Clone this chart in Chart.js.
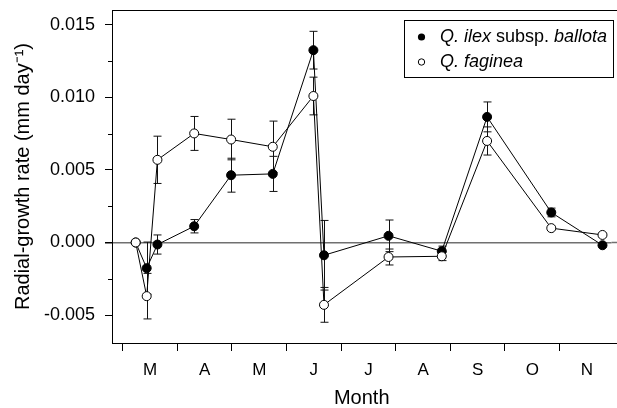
<!DOCTYPE html>
<html>
<head>
<meta charset="utf-8">
<script src="https://cdn.jsdelivr.net/npm/chart.js@4"></script>
<style>
  body { margin: 0; background: #fff; }
  #wrap { width: 617px; height: 408px; }
</style>
</head>
<body>
<div id="wrap"><canvas id="growthChart"></canvas></div>
<script>
// sampling dates, in months (3 = 1 March)
const dates = [3.238, 3.439, 3.636, 4.309, 4.985, 5.748, 6.492, 6.686, 7.868, 8.843, 9.673, 10.848, 11.786];
const ilexMean = [0, -0.00177, -0.00014, 0.00112, 0.00464, 0.00473, 0.01326, -0.00088, 0.00046, -0.0006, 0.00866, 0.00207, -0.00019];
const ilexErr = [0, 0.0018, 0.00066, 0.00046, 0.00117, 0.00121, 0.0013, 0.0024, 0.00109, 0.00035, 0.00103, 0.0003, 0.0001];
const fagMean = [0, -0.0037, 0.0057, 0.00752, 0.0071, 0.0066, 0.0101, -0.0043, -0.001, -0.00095, 0.007, 0.00099, 0.00052];
const fagErr = [0, 0.00157, 0.00163, 0.00117, 0.0014, 0.00177, 0.0013, 0.0012, 0.00055, 0.0003, 0.00097, 0.0001, 0.0001];

const monthStarts = [3, 4, 5, 6, 7, 8, 9, 10, 11];
const monthLabels = ['M', 'A', 'M', 'J', 'J', 'A', 'S', 'O', 'N'];
const yTicks = [-0.005, -0.0025, 0, 0.0025, 0.005, 0.0075, 0.01, 0.0125, 0.015];

const FONT = "'Liberation Sans', Arial, Helvetica, sans-serif";

function isMajorY(v) {
  return Math.abs(v / 0.005 - Math.round(v / 0.005)) < 1e-6;
}

const errorBars = {
  id: 'errorBars',
  beforeDatasetsDraw(chart) {
    const ctx = chart.ctx;
    const y = chart.scales.y;
    ctx.save();
    ctx.strokeStyle = '#111';
    ctx.lineWidth = 1;
    chart.data.datasets.forEach((ds, i) => {
      const meta = chart.getDatasetMeta(i);
      meta.data.forEach((pt, j) => {
        const e = ds.errors[j];
        if (!e) return;
        const top = y.getPixelForValue(ds.data[j].y + e);
        const bot = y.getPixelForValue(ds.data[j].y - e);
        const px = Math.round(pt.x) + 0.5;
        ctx.beginPath();
        ctx.moveTo(px, top); ctx.lineTo(px, bot);
        ctx.moveTo(px - 4, top); ctx.lineTo(px + 4, top);
        ctx.moveTo(px - 4, bot); ctx.lineTo(px + 4, bot);
        ctx.stroke();
      });
    });
    ctx.restore();
  },
  afterDraw(chart) {
    const ctx = chart.ctx;
    const area = chart.chartArea;
    const y = chart.scales.y;
    ctx.save();
    ctx.strokeStyle = '#000';
    ctx.lineWidth = 1;
    // top frame, runs off the right edge like the original
    ctx.beginPath();
    ctx.moveTo(area.left, area.top + 0.5);
    ctx.lineTo(chart.width, area.top + 0.5);
    ctx.moveTo(area.right, area.bottom + 0.5);
    ctx.lineTo(chart.width, area.bottom + 0.5);
    ctx.stroke();
    // minor y ticks
    yTicks.filter(v => !isMajorY(v)).forEach(v => {
      const py = Math.round(y.getPixelForValue(v)) + 0.5;
      ctx.beginPath();
      ctx.moveTo(area.left - 4, py);
      ctx.lineTo(area.left, py);
      ctx.stroke();
    });
    // zero line to the edge
    const zy = y.getPixelForValue(0);
    ctx.strokeStyle = '#707070';
    ctx.lineWidth = 1.5;
    ctx.beginPath();
    ctx.moveTo(area.right, zy);
    ctx.lineTo(chart.width, zy);
    ctx.stroke();
    // legend
    ctx.strokeStyle = '#000';
    ctx.lineWidth = 1;
    const bx = 404, by = 20, bw = 209, bh = 57;
    ctx.fillStyle = '#fff';
    ctx.fillRect(bx, by, bw, bh);
    ctx.strokeRect(bx + 0.5, by + 0.5, bw, bh);
    ctx.fillStyle = '#000';
    ctx.beginPath();
    ctx.arc(421.5, 37, 3.6, 0, Math.PI * 2);
    ctx.fill();
    ctx.beginPath();
    ctx.arc(421.5, 62, 3.2, 0, Math.PI * 2);
    ctx.stroke();
    ctx.textBaseline = 'middle';
    const rows = [
      [[ 'Q. ilex', true ], [ ' subsp. ', false ], [ 'ballota', true ]],
      [[ 'Q. faginea', true ]]
    ];
    rows.forEach((parts, r) => {
      let tx = 440;
      const ty = 37 + r * 25;
      parts.forEach(([txt, it]) => {
        ctx.font = (it ? 'italic ' : '') + '18px ' + FONT;
        ctx.fillText(txt, tx, ty);
        tx += ctx.measureText(txt).width;
      });
    });
    ctx.restore();
  }
};

new Chart(document.getElementById('growthChart'), {
  type: 'line',
  plugins: [errorBars],
  data: {
    datasets: [
      {
        label: 'Q. ilex subsp. ballota',
        data: dates.map((d, i) => ({ x: d, y: ilexMean[i] })),
        errors: ilexErr,
        borderColor: '#000',
        borderWidth: 1,
        backgroundColor: '#000',
        pointBackgroundColor: '#000',
        pointBorderColor: '#000',
        pointRadius: 4.5,
        pointBorderWidth: 1,
        tension: 0,
        order: 2
      },
      {
        label: 'Q. faginea',
        data: dates.map((d, i) => ({ x: d, y: fagMean[i] })),
        errors: fagErr,
        borderColor: '#000',
        borderWidth: 1,
        backgroundColor: '#fff',
        pointBackgroundColor: '#fff',
        pointBorderColor: '#000',
        pointRadius: 4.5,
        pointBorderWidth: 1,
        tension: 0,
        order: 1
      }
    ]
  },
  options: {
    responsive: true,
    maintainAspectRatio: false,
    animation: false,
    layout: { padding: { top: 10, right: 0, left: 0, bottom: 0 } },
    plugins: {
      legend: { display: false },
      tooltip: { enabled: false }
    },
    scales: {
      x: {
        type: 'linear',
        min: 2.804,
        max: 11.951,
        afterFit: (s) => { s.height = 65; s.paddingLeft = 0; s.paddingRight = 0; },
        afterBuildTicks: (s) => {
          const t = [];
          monthStarts.forEach(m => { t.push({ value: m }); t.push({ value: m + 0.5 }); });
          s.ticks = t;
        },
        border: { display: true, color: '#000', width: 1 },
        grid: {
          drawOnChartArea: false,
          tickLength: 8,
          tickColor: (c) => (c.tick && Number.isInteger(c.tick.value)) ? '#000' : 'rgba(0,0,0,0)'
        },
        ticks: {
          autoSkip: false,
          maxRotation: 0,
          padding: 9,
          color: '#000',
          font: { family: FONT, size: 17 },
          callback: (v) => {
            const i = monthStarts.indexOf(v - 0.5);
            return i >= 0 ? monthLabels[i] : '';
          }
        },
        title: {
          display: true,
          text: 'Month',
          color: '#000',
          font: { family: FONT, size: 20, lineHeight: 1 },
          padding: { top: 0, bottom: 0 }
        }
      },
      y: {
        type: 'linear',
        min: -0.00693,
        max: 0.01603,
        afterFit: (s) => { s.width = 112; s.paddingTop = 0; s.paddingBottom = 0; },
        afterBuildTicks: (s) => { s.ticks = yTicks.map(v => ({ value: v })); },
        border: { display: true, color: '#000', width: 1 },
        grid: {
          drawOnChartArea: true,
          tickLength: 7,
          color: (c) => (c.tick && Math.abs(c.tick.value) < 1e-9) ? '#707070' : 'rgba(0,0,0,0)',
          lineWidth: (c) => (c.tick && Math.abs(c.tick.value) < 1e-9) ? 1.5 : 1,
          tickColor: (c) => (c.tick && isMajorY(c.tick.value)) ? '#000' : 'rgba(0,0,0,0)'
        },
        ticks: {
          padding: 10,
          color: '#000',
          font: { family: FONT, size: 18 },
          callback: (v) => isMajorY(v) ? v.toFixed(3) : ''
        },
        title: {
          display: true,
          text: 'Radial-growth rate (mm day\u207B\u00B9)',
          color: '#000',
          font: { family: FONT, size: 20, lineHeight: 1 },
          padding: { top: 13, bottom: 0 }
        }
      }
    }
  }
});
</script>
</body>
</html>
